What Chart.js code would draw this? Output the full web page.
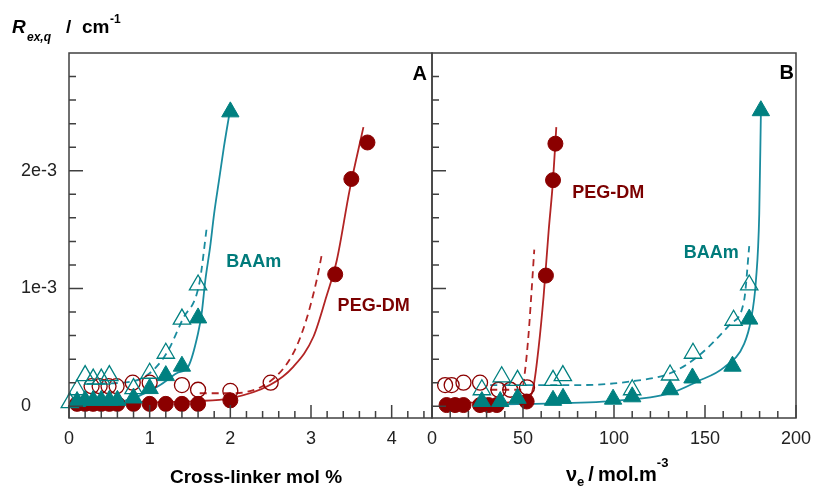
<!DOCTYPE html>
<html>
<head>
<meta charset="utf-8">
<script src="https://cdn.jsdelivr.net/npm/chart.js@4.4.1/dist/chart.umd.min.js"></script>
<style>
  html, body { margin: 0; padding: 0; background: #fff; overflow: hidden; }
  #wrap { position: relative; width: 813px; height: 488px; overflow: hidden; }
  #chartA { position: absolute; left: 0; top: 0; }
  #chartB { position: absolute; left: 412px; top: 0; }
</style>
</head>
<body>
<div id="wrap">
  <canvas id="chartA" width="440" height="488"></canvas>
  <canvas id="chartB" width="401" height="488"></canvas>
</div>
<script>
// y values are in units of 1e-3 cm^-1

// Panel A: cross-linker mol %
const aBaamFilledX = [0.1, 0.2, 0.3, 0.4, 0.5, 0.6, 0.8, 1.0, 1.2, 1.4, 1.6, 2.0];
const aBaamFilledY = [0.04, 0.05, 0.05, 0.05, 0.05, 0.05, 0.07, 0.15, 0.26, 0.34, 0.75, 2.5];
const aBaamOpenX = [0.01, 0.1, 0.2, 0.3, 0.4, 0.5, 0.8, 1.0, 1.2, 1.4, 1.6];
const aBaamOpenY = [0.03, 0.14, 0.26, 0.23, 0.23, 0.26, 0.15, 0.28, 0.45, 0.74, 1.03];
const aPegFilledX = [0.1, 0.2, 0.3, 0.4, 0.5, 0.6, 0.8, 1.0, 1.2, 1.4, 1.6, 2.0, 3.3, 3.5, 3.7];
const aPegFilledY = [0.02, 0.02, 0.02, 0.02, 0.02, 0.02, 0.02, 0.02, 0.02, 0.02, 0.02, 0.05, 1.12, 1.93, 2.24];
const aPegOpenX = [0.28, 0.38, 0.49, 0.59, 0.79, 1.0, 1.4, 1.6, 2.0, 2.5];
const aPegOpenY = [0.17, 0.17, 0.17, 0.17, 0.2, 0.2, 0.18, 0.14, 0.13, 0.2];

const aBaamFitX = [0.05, 0.6, 0.84, 1.0, 1.13, 1.335, 1.48, 1.6, 1.645, 1.69, 1.75, 1.8, 1.86, 1.92, 1.99];
const aBaamFitY = [0.02, 0.036, 0.08, 0.13, 0.18, 0.28, 0.34, 0.62, 0.79, 1.07, 1.355, 1.64, 1.92, 2.2, 2.49];
const aBaamDashX = [0.22, 0.78, 1.0, 1.21, 1.41, 1.615, 1.71];
const aBaamDashY = [0.19, 0.21, 0.28, 0.45, 0.74, 1.04, 1.53];
const aPegFitX = [0.59, 1.58, 2.0, 2.49, 2.78, 3.03, 3.19, 3.32, 3.48, 3.65];
const aPegFitY = [0.03, 0.044, 0.067, 0.18, 0.335, 0.59, 0.93, 1.24, 1.84, 2.37];
const aPegDashX = [1.62, 2.0, 2.49, 2.78, 2.94, 3.07, 3.14];
const aPegDashY = [0.11, 0.11, 0.21, 0.45, 0.73, 1.07, 1.31];

// Panel B: elastically effective chain density
const bBaamFilledX = [27.4, 37.5, 47, 66.5, 72, 99.5, 110, 130.8, 143.1, 165.1, 174.3, 180.7];
const bBaamFilledY = [0.04, 0.04, 0.067, 0.05, 0.067, 0.06, 0.08, 0.14, 0.24, 0.34, 0.74, 2.51];
const bBaamOpenX = [27.4, 38.3, 47, 66.5, 71.9, 110, 130.8, 143.4, 165.7, 174.3];
const bBaamOpenY = [0.14, 0.25, 0.22, 0.22, 0.26, 0.14, 0.265, 0.45, 0.73, 1.03];
const bPegFilledX = [8, 12.7, 17.3, 26.4, 31, 35.6, 52, 62.6, 66.5, 67.8];
const bPegFilledY = [0.01, 0.01, 0.01, 0.01, 0.01, 0.01, 0.04, 1.11, 1.92, 2.23];
const bPegOpenX = [7.2, 10.8, 17.3, 26.4, 36.5, 43, 52.2];
const bPegOpenY = [0.18, 0.18, 0.2, 0.2, 0.14, 0.14, 0.16];

const bBaamFitX = [22.8, 54, 100, 130.8, 145.8, 160.5, 171.5, 175.2, 178, 179.8, 180.7];
const bBaamFitY = [0.01, 0.02, 0.045, 0.11, 0.21, 0.33, 0.53, 0.73, 1.07, 1.63, 2.48];
const bBaamDashX = [32, 81.5, 109, 130.8, 145.8, 164, 171.5, 174.3];
const bBaamDashY = [0.18, 0.18, 0.21, 0.28, 0.42, 0.7, 0.9, 1.36];
const bPegFitX = [9.9, 35.6, 52.2, 55.8, 58.6, 61.3, 64.1, 66.5, 68.3];
const bPegFitY = [0.03, 0.03, 0.05, 0.17, 0.5, 0.93, 1.49, 1.92, 2.37];
const bPegDashX = [32, 49.4, 51.2, 53.1, 54.5, 56.2];
const bPegDashY = [0.14, 0.14, 0.31, 0.62, 0.93, 1.33];

// axes
const xTicksA = [0, 1, 2, 3, 4];
const xTicksB = [0, 50, 100, 150, 200];
const yTicks = [0, 1, 2];
const yTickLabels = ['0', '1e-3', '2e-3'];

const TEAL = '#008080';
const TEAL_LINE = '#1a8c9f';
const RED = '#8b0000';
const RED_LINE = '#b22424';
const FONT = 'Liberation Sans, Arial, sans-serif';

function pts(xs, ys) {
    return xs.map((x, i) => ({ x: x, y: ys[i] }));
}

function markers(xs, ys, style, color, filled, radius, order) {
    return {
        data: pts(xs, ys),
        showLine: false,
        pointStyle: style,
        pointRadius: radius,
        pointBackgroundColor: filled ? color : 'rgba(0,0,0,0)',
        pointBorderColor: color,
        pointBorderWidth: filled ? 1 : 1.3,
        clip: false,
        order: order
    };
}

function curve(xs, ys, color, dashed) {
    return {
        data: pts(xs, ys),
        showLine: true,
        pointRadius: 0,
        borderColor: color,
        borderWidth: 1.8,
        borderDash: dashed ? [7, 5] : [],
        cubicInterpolationMode: 'monotone',
        fill: false,
        order: 10
    };
}

// frame box with inward tick marks
const framePlugin = {
    id: 'frame',
    afterDatasetsDraw(chart, args, opts) {
        const { ctx, chartArea: a } = chart;
        const xs = chart.scales.x, ys = chart.scales.y;
        ctx.save();
        ctx.strokeStyle = '#404040';
        ctx.lineWidth = 1.5;
        ctx.strokeRect(a.left, a.top, a.right - a.left, a.bottom - a.top);
        ctx.beginPath();
        for (let k = 0; k <= opts.xCount; k++) {
            const px = xs.getPixelForValue(k * opts.xStep);
            const len = k % 5 === 0 ? 13 : 7;
            ctx.moveTo(px, a.bottom);
            ctx.lineTo(px, a.bottom - len);
        }
        for (let k = 0; k <= 14; k++) {
            const py = ys.getPixelForValue(k * 0.2);
            const len = k % 5 === 0 ? 14 : 7;
            ctx.moveTo(a.left, py);
            ctx.lineTo(a.left + len, py);
        }
        ctx.stroke();
        ctx.restore();
    }
};

// free text: series labels in data coordinates, and titles as chained runs
const textPlugin = {
    id: 'texts',
    afterDraw(chart, args, opts) {
        const { ctx } = chart;
        const xs = chart.scales.x, ys = chart.scales.y;
        ctx.save();
        ctx.textBaseline = 'alphabetic';
        ctx.textAlign = 'left';
        (opts.labels || []).forEach(l => {
            ctx.font = 'bold 18px ' + FONT;
            ctx.fillStyle = l.color;
            ctx.fillText(l.text, xs.getPixelForValue(l.x), ys.getPixelForValue(l.y));
        });
        let cursor = 0;
        (opts.runs || []).forEach(r => {
            ctx.font = r.font + ' ' + FONT;
            ctx.fillStyle = '#000';
            ctx.textAlign = r.align || 'left';
            const x = r.x !== undefined ? r.x : cursor + (r.gap || 0);
            ctx.fillText(r.text, x, r.y);
            cursor = x + ctx.measureText(r.text).width;
        });
        ctx.restore();
    }
};

function buildOptions(cfg) {
    return {
        responsive: false,
        animation: false,
        layout: { padding: cfg.padding, autoPadding: false },
        plugins: {
            legend: { display: false },
            tooltip: { enabled: false },
            frame: cfg.frame,
            texts: cfg.texts
        },
        scales: {
            x: {
                type: 'linear',
                min: cfg.xMin,
                max: cfg.xMax,
                afterBuildTicks: s => { s.ticks = cfg.xTicks.map(v => ({ value: v })); },
                afterFit: s => {
                    s.height = 70;
                    // keep the plot box where the padding puts it
                    s.paddingLeft = 0;
                    s.paddingRight = 0;
                },
                grid: { display: false, drawTicks: false },
                border: { display: false },
                ticks: {
                    padding: 10,
                    autoSkip: false,
                    maxRotation: 0,
                    color: '#222',
                    font: { family: FONT, size: 18 }
                }
            },
            y: {
                type: 'linear',
                display: cfg.showY,
                min: -0.1,
                max: 3,
                afterBuildTicks: s => { s.ticks = yTicks.map(v => ({ value: v })); },
                afterFit: s => { s.width = cfg.showY ? 48 : 0; },
                grid: { display: false, drawTicks: false },
                border: { display: false },
                ticks: {
                    crossAlign: 'far',
                    padding: 0,
                    color: '#222',
                    font: { family: FONT, size: 18 },
                    callback: (v, i) => yTickLabels[i]
                }
            }
        }
    };
}

new Chart(document.getElementById('chartA'), {
    type: 'scatter',
    data: {
        datasets: [
            curve(aBaamFitX, aBaamFitY, TEAL_LINE, false),
            curve(aBaamDashX, aBaamDashY, TEAL_LINE, true),
            curve(aPegFitX, aPegFitY, RED_LINE, false),
            curve(aPegDashX, aPegDashY, RED_LINE, true),
            markers(aPegOpenX, aPegOpenY, 'circle', RED, false, 7.5, 5),
            markers(aPegFilledX, aPegFilledY, 'circle', RED, true, 7.5, 4),
            markers(aBaamFilledX, aBaamFilledY, 'triangle', TEAL, true, 10, 3),
            markers(aBaamOpenX, aBaamOpenY, 'triangle', TEAL, false, 10, 2)
        ]
    },
    options: buildOptions({
        padding: { top: 53, left: 21, right: 8, bottom: 0 },
        xMin: 0, xMax: 4.5, xTicks: xTicksA, showY: true,
        frame: { xStep: 0.2, xCount: 22 },
        texts: {
            labels: [
                { text: 'BAAm', x: 1.95, y: 1.18, color: '#007b7b' },
                { text: 'PEG-DM', x: 3.33, y: 0.81, color: '#7b0000' }
            ],
            runs: [
                { text: 'R', x: 12, y: 33, font: 'italic bold 19px' },
                { text: 'ex,q', x: 27, y: 41, font: 'italic bold 12px' },
                { text: '/', x: 66, y: 33, font: 'bold 19px' },
                { text: 'cm', x: 82, y: 33, font: 'bold 19px' },
                { text: '-1', x: 110, y: 23, font: 'bold 12px' },
                { text: 'A', x: 427, y: 80, font: 'bold 20px', align: 'right' },
                { text: 'Cross-linker mol %', x: 256, y: 483, font: 'bold 19px', align: 'center' }
            ]
        }
    }),
    plugins: [framePlugin, textPlugin]
});

new Chart(document.getElementById('chartB'), {
    type: 'scatter',
    data: {
        datasets: [
            curve(bBaamFitX, bBaamFitY, TEAL_LINE, false),
            curve(bBaamDashX, bBaamDashY, TEAL_LINE, true),
            curve(bPegFitX, bPegFitY, RED_LINE, false),
            curve(bPegDashX, bPegDashY, RED_LINE, true),
            markers(bPegOpenX, bPegOpenY, 'circle', RED, false, 7.5, 5),
            markers(bPegFilledX, bPegFilledY, 'circle', RED, true, 7.5, 4),
            markers(bBaamFilledX, bBaamFilledY, 'triangle', TEAL, true, 10, 3),
            markers(bBaamOpenX, bBaamOpenY, 'triangle', TEAL, false, 10, 2)
        ]
    },
    options: buildOptions({
        padding: { top: 53, left: 20, right: 17, bottom: 0 },
        xMin: 0, xMax: 200, xTicks: xTicksB, showY: false,
        frame: { xStep: 10, xCount: 20 },
        texts: {
            labels: [
                { text: 'PEG-DM', x: 77, y: 1.77, color: '#7b0000' },
                { text: 'BAAm', x: 138.3, y: 1.26, color: '#007b7b' }
            ],
            runs: [
                { text: 'B', x: 382, y: 79, font: 'bold 20px', align: 'right' },
                { text: '\u03bd', x: 154, y: 481, font: 'bold 20px' },
                { text: 'e', y: 486, font: 'bold 13px', gap: 0 },
                { text: '/', y: 481, font: 'bold 20px', gap: 4 },
                { text: 'mol.m', y: 481, font: 'bold 20px', gap: 4 },
                { text: '-3', y: 467, font: 'bold 13px', gap: 0 }
            ]
        }
    }),
    plugins: [framePlugin, textPlugin]
});
</script>
</body>
</html>
